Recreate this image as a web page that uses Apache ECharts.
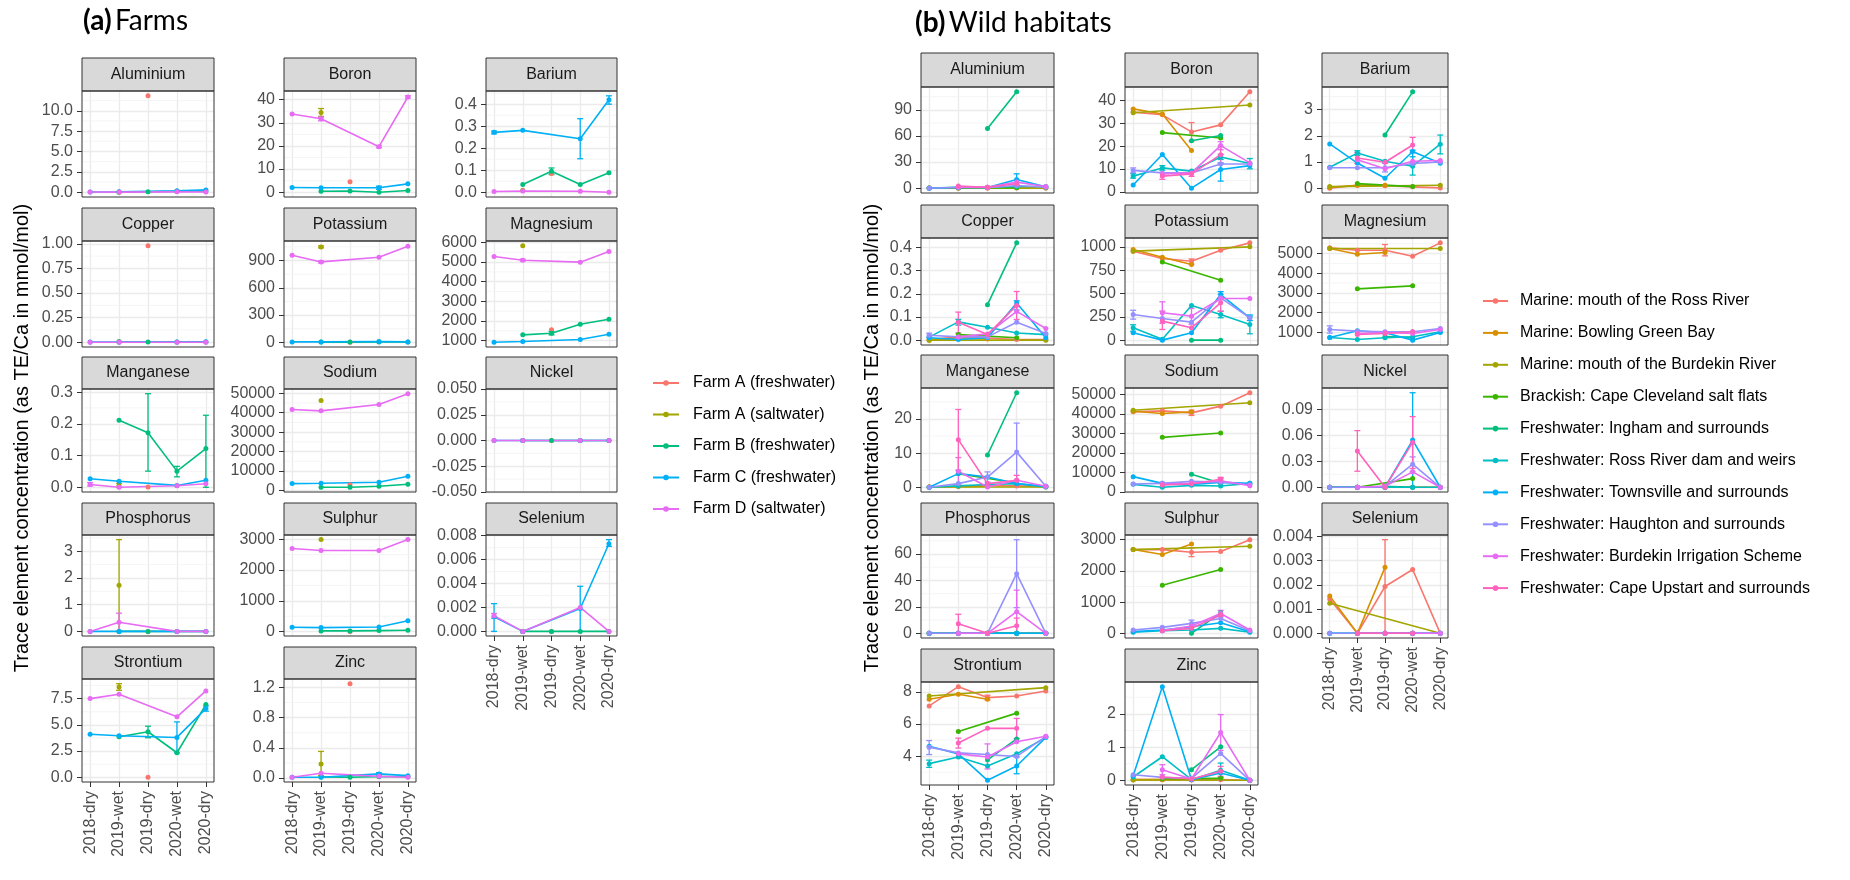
<!DOCTYPE html>
<html><head><meta charset="utf-8">
<script src="https://cdn.jsdelivr.net/npm/echarts@6/dist/echarts.min.js"></script>
<style>html,body{margin:0;padding:0;background:#fff}#c{width:1850px;height:880px}</style>
</head><body><div id="c"></div>
<script>
const categories = ['2018-dry','2019-wet','2019-dry','2020-wet','2020-dry'];
const elements = ['Aluminium','Boron','Barium','Copper','Potassium','Magnesium','Manganese','Sodium','Nickel','Phosphorus','Sulphur','Selenium','Strontium','Zinc'];
const farmNames = ['Farm A (freshwater)','Farm A (saltwater)','Farm B (freshwater)','Farm C (freshwater)','Farm D (saltwater)'];
const wildNames = ['Marine: mouth of the Ross River','Marine: Bowling Green Bay','Marine: mouth of the Burdekin River','Brackish: Cape Cleveland salt flats','Freshwater: Ingham and surrounds','Freshwater: Ross River dam and weirs','Freshwater: Townsville and surrounds','Freshwater: Haughton and surrounds','Freshwater: Burdekin Irrigation Scheme','Freshwater: Cape Upstart and surrounds'];
const farmColors = ['#F8766D','#A3A500','#00BF7D','#00B0F6','#E76BF3'];
const wildColors = ['#F8766D','#D89000','#A3A500','#39B600','#00BF7D','#00BFC4','#00B0F6','#9590FF','#E76BF3','#FF62BC'];

// ---------- (a) Farms : rows = farms, columns = categories ----------
const a_Aluminium = [[null,null,11.84,null,null],[null,0.0,null,null,null],[null,0.02,0.05,0.12,0.15],[0.03,0.05,null,0.18,0.28],[0.03,0.01,null,0.04,0.03]];
const a_Aluminium_err = [];
const a_Aluminium_ticks = ['0.0','2.5','5.0','7.5','10.0'];
const a_Boron = [[null,null,4.5,null,null],[null,34.5,null,null,null],[null,0.4,0.5,0.0,0.7],[2.0,1.9,null,1.9,3.6],[33.8,31.8,null,19.7,41.2]];
const a_Boron_err = [[1,1,32.8,36.2],[3,3,1.2,2.6],[4,1,30.9,32.5],[4,3,19.2,20.2],[4,4,40.7,41.7]];
const a_Boron_ticks = ['0','10','20','30','40'];
const a_Barium = [[null,null,0.085,null,null],[null,0.009,null,null,null],[null,0.035,0.095,0.035,0.088],[0.272,0.281,null,0.243,0.42],[0.003,0.005,null,0.004,0.0]];
const a_Barium_err = [[2,2,0.08,0.11],[3,0,0.265,0.278],[3,3,0.152,0.334],[3,4,0.40,0.438]];
const a_Barium_ticks = ['0.0','0.1','0.2','0.3','0.4'];
const a_Copper = [[null,null,0.98,null,null],[null,0.007,null,null,null],[null,0.002,0.002,0.002,0.003],[0.002,0.002,null,0.002,0.006],[0.001,0.001,null,0.001,0.001]];
const a_Copper_err = [];
const a_Copper_ticks = ['0.00','0.25','0.50','0.75','1.00'];
const a_Potassium = [[null,null,2,null,null],[null,1050,null,null,null],[null,3,3,4,4],[5,5,null,10,5],[958,885,null,937,1057]];
const a_Potassium_err = [[1,1,1040,1062],[4,1,875,895]];
const a_Potassium_ticks = ['0','300','600','900'];
const a_Magnesium = [[null,null,1544,null,null],[null,5830,null,null,null],[null,1289,1374,1833,2088],[915,949,null,1051,1323],[5284,5097,null,4996,5540]];
const a_Magnesium_err = [[2,2,1290,1460],[4,1,5050,5150]];
const a_Magnesium_ticks = ['1000','2000','3000','4000','5000','6000'];
const a_Manganese = [[null,null,0.001,null,null],[null,0.005,null,null,null],[null,0.211,0.172,0.051,0.122],[0.027,0.019,null,0.006,0.022],[0.009,0.0,null,0.005,0.011]];
const a_Manganese_err = [[1,1,0.0,0.012],[2,2,0.051,0.295],[2,3,0.033,0.066],[2,4,0.0,0.227],[4,0,0.004,0.015]];
const a_Manganese_ticks = ['0.0','0.1','0.2','0.3'];
const a_Sodium = [[null,null,2950,null,null],[null,46354,null,null,null],[null,1563,1563,2083,3125],[3472,3646,null,4167,7292],[41667,40972,null,44270,49826]];
const a_Sodium_err = [];
const a_Sodium_ticks = ['0','10000','20000','30000','40000','50000'];
const a_Nickel = [[null,null,0,null,null],[null,0,null,null,null],[null,0,0,0,0],[0,0,null,0,0],[0,0,null,0,0]];
const a_Nickel_err = [];
const a_Nickel_ticks = ['-0.050','-0.025','0.000','0.025','0.050'];
const a_Phosphorus = [[null,null,0,null,null],[null,1.72,null,null,null],[null,0,0,0,0],[0,0,null,0,0],[0,0.34,null,0,0]];
const a_Phosphorus_err = [[1,1,0.0,3.43],[4,1,0.0,0.68]];
const a_Phosphorus_ticks = ['0','1','2','3'];
const a_Sulphur = [[null,null,5,null,null],[null,2988,null,null,null],[null,21,21,32,43],[139,128,null,149,352],[2700,2636,null,2636,2988]];
const a_Sulphur_err = [];
const a_Sulphur_ticks = ['0','1000','2000','3000'];
const a_Selenium = [[null,null,0,null,null],[null,0,null,null,null],[null,0,0,0,0],[0.00123,0,null,0.00191,0.00732],[0.00131,0,null,0.002,0]];
const a_Selenium_err = [[3,0,0,0.00232],[3,3,0,0.00377],[3,4,0.0071,0.00767],[4,0,0.0011,0.0015]];
const a_Selenium_ticks = ['0.000','0.002','0.004','0.006','0.008'];
const a_Strontium = [[null,null,0.0,null,null],[null,8.61,null,null,null],[null,3.86,4.34,2.34,6.93],[4.11,3.96,null,3.8,6.55],[7.5,7.91,null,5.76,8.23]];
const a_Strontium_err = [[1,1,8.29,8.92],[2,2,3.77,4.87],[3,3,2.32,5.28],[3,4,6.3,6.8]];
const a_Strontium_ticks = ['0.0','2.5','5.0','7.5'];
const a_Zinc = [[null,null,1.249,null,null],[null,0.187,null,null,null],[null,0.013,0.01,0.018,0.018],[0.009,0.009,null,0.054,0.031],[0.009,0.062,null,0.022,0.009]];
const a_Zinc_err = [[1,1,0.031,0.352],[3,3,0.04,0.07]];
const a_Zinc_ticks = ['0.0','0.4','0.8','1.2'];

// ---------- (b) Wild habitats : rows = sites, columns = categories ----------
const b_Aluminium = [[0.1,0.3,0.2,0.3,0.1],[0.1,0.2,0.3,null,null],[0.1,null,null,null,0.1],[null,0.2,null,0.5,null],[null,null,68.5,110.7,null],[0.2,1.0,1.0,2.0,2.0],[0.0,0.8,0.8,10.0,1.5],[0.0,1.0,0.5,3.0,1.0],[null,1.0,1.0,7.0,2.0],[null,2.5,1.0,5.0,null]];
const b_Aluminium_err = [[6,3,3.8,16.5]];
const b_Aluminium_ticks = ['0','30','60','90'];
const b_Boron = [[35.0,33.8,26.3,29.4,43.9],[36.4,34.2,18.1,null,null],[34.7,null,null,null,38.1],[null,26.0,null,23.6,null],[null,null,22.4,24.7,null],[6.9,10.5,9.1,15.3,12.4],[3.0,16.4,1.6,9.8,11.5],[9.4,8.3,8.3,12.2,12.2],[null,7.9,8.3,20.3,12.7],[null,6.9,7.9,16.3,null]];
const b_Boron_err = [[0,2,22.3,30.4],[5,0,6.0,8.0],[5,1,9.5,11.5],[5,3,14.2,16.4],[5,4,10.1,14.6],[6,3,4.7,12.7],[7,0,8.3,10.5],[8,3,18.5,22.0],[9,1,5.5,8.4],[9,2,6.8,9.0],[9,3,12.5,20.0]];
const b_Boron_ticks = ['0','10','20','30','40'];
const b_Barium = [[0.0,0.11,0.09,0.05,0.01],[0.03,0.11,0.11,null,null],[0.06,null,null,null,0.11],[null,0.175,null,0.06,null],[null,null,2.03,3.68,null],[0.8,1.34,1.03,0.84,1.68],[1.69,0.96,0.38,1.4,0.95],[0.78,0.78,0.78,0.94,1.0],[null,1.09,0.74,1.03,1.06],[null,1.15,0.99,1.65,null]];
const b_Barium_err = [[5,1,1.25,1.43],[5,3,0.5,1.2],[5,4,1.31,2.03],[6,3,1.0,1.45],[7,2,0.62,0.95],[9,1,0.94,1.36],[9,3,1.36,1.94]];
const b_Barium_ticks = ['0','1','2','3'];
const b_Copper = [[0.003,0.014,0.009,0.003,0.003],[0.0,0.01,0.005,null,null],[0.0,null,null,null,0.0],[null,0.024,null,0.01,null],[null,null,0.153,0.42,null],[0.013,0.079,0.056,0.031,0.024],[0.01,0.003,0.01,0.16,0.01],[0.021,0.014,0.014,0.077,0.029],[null,0.014,0.027,0.124,0.05],[null,0.077,0.024,0.15,null]];
const b_Copper_err = [[5,1,0.065,0.09],[6,3,0.13,0.17],[7,0,0.012,0.03],[9,1,0.031,0.121],[9,3,0.089,0.21]];
const b_Copper_ticks = ['0.0','0.1','0.2','0.3','0.4'];
const b_Potassium = [[954,875,846,964,1043],[971,889,811,null,null],[954,null,null,null,1000],[null,839,null,643,null],[null,null,0,0,null],[132,10,371,275,168],[79,0,79,489,239],[275,232,193,454,239],[null,293,257,446,446],[null,204,132,400,null]];
const b_Potassium_err = [[0,2,815,870],[5,0,95,165],[5,3,240,310],[5,4,68,257],[6,3,455,520],[6,4,210,270],[7,0,225,320],[8,1,180,411],[8,2,170,340],[9,1,114,311],[9,3,310,490]];
const b_Potassium_ticks = ['0','250','500','750','1000'];
const b_Magnesium = [[5288,5169,5169,4864,5542],[5254,4966,5050,null,null],[5254,null,null,null,5254],[null,3203,null,3356,null],[null,null,780,720,null],[729,627,712,763,1017],[729,1068,966,593,983],[1136,1051,1017,1017,1186],[null,932,983,932,1136],[null,881,932,1017,null]];
const b_Magnesium_err = [[0,2,4881,5458],[7,0,950,1320]];
const b_Magnesium_ticks = ['1000','2000','3000','4000','5000'];
const b_Manganese = [[0.1,0.3,0.5,0.4,0.2],[0.1,0.2,0.3,null,null],[0.1,null,null,null,0.1],[null,4.0,null,1.27,null],[null,null,9.46,27.7,null],[0.0,0.4,0.8,1.07,0.1],[0.0,4.0,3.0,1.07,0.3],[0.0,1.07,3.0,10.3,0.3],[null,4.7,0.1,2.05,0.3],[null,13.95,1.07,2.05,null]];
const b_Manganese_err = [[7,2,1.5,4.5],[7,3,2.05,18.8],[8,1,0.7,8.7],[9,1,5.0,22.8],[9,3,0.6,3.5]];
const b_Manganese_ticks = ['0','10','20'];
const b_Sodium = [[41034,41552,40517,43966,50862],[41379,40172,41034,null,null],[41897,null,null,null,45690],[null,27931,null,30172,null],[null,null,8966,4310,null],[3793,2300,3276,2931,4310],[7759,4310,3800,4828,4310],[3966,4310,5345,5000,3621],[null,3793,4310,5690,3103],[null,3448,3966,6379,null]];
const b_Sodium_err = [[0,2,39200,41900],[8,3,4700,6700],[9,3,5300,7400]];
const b_Sodium_ticks = ['0','10000','20000','30000','40000','50000'];
const b_Nickel = [[0,0,0,0,0],[0,0,0,null,null],[0,null,null,null,0],[null,0,null,0.01,null],[null,null,0.001,0,null],[0,0,0,0,0],[0,0,0,0.0544,0],[0,0,0.001,0.0266,0],[null,0,0.001,0.0178,0],[null,0.0417,0,0.0517,null]];
const b_Nickel_err = [[6,3,0,0.109],[7,3,0.0178,0.035],[9,1,0.0185,0.0653],[9,3,0.0216,0.0815]];
const b_Nickel_ticks = ['0.00','0.03','0.06','0.09'];
const b_Phosphorus = [[0,0,0,0,0],[0,0,0,null,null],[0,null,null,null,0],[null,0,null,0,null],[null,null,0,0,null],[0,0,0,0,0],[0,0,0,0,0],[0,0,0,45.1,0],[null,0,0,16.4,0],[null,7.2,0,5.7,null]];
const b_Phosphorus_err = [[7,3,19.4,70.8],[8,3,0.2,32.6],[9,1,0,14.4],[9,3,0,11.5]];
const b_Phosphorus_ticks = ['0','20','40','60'];
const b_Sulphur = [[2674,2674,2589,2611,2989],[2674,2516,2853,null,null],[2674,null,null,null,2779],[null,1537,null,2042,null],[null,null,10,663,null],[42,95,116,168,42],[63,116,221,347,63],[116,200,326,484,95],[null,95,242,642,116],[null,95,168,589,null]];
const b_Sulphur_err = [[0,2,2450,2730],[7,2,220,430],[8,3,540,740]];
const b_Sulphur_ticks = ['0','1000','2000','3000'];
const b_Selenium = [[0.00141,0,0.00193,0.00263,0],[0.00154,0,0.00272,null,null],[0.00124,null,null,null,0],[null,0,null,0,null],[null,null,0,0,null],[0,0,0,0,0],[0,0,0,0,0],[0,0,0,0,0],[null,0,0,0,0],[null,0,0,0,null]];
const b_Selenium_err = [[0,2,0,0.00386]];
const b_Selenium_ticks = ['0.000','0.001','0.002','0.003','0.004'];
const b_Strontium = [[7.13,8.33,7.65,7.75,8.06],[7.55,7.86,7.55,null,null],[7.75,null,null,null,8.27],[null,5.53,null,6.68,null],[null,null,3.77,5.07,null],[3.53,3.94,3.38,4.14,5.17],[4.62,4.14,2.49,3.38,5.17],[4.56,4.2,4.1,3.98,5.22],[null,4.14,3.94,4.9,5.24],[null,4.82,5.73,5.73,null]];
const b_Strontium_err = [[0,2,7.5,7.8],[5,0,3.3,3.75],[6,3,2.9,3.94],[7,0,4.1,4.97],[8,2,3.2,4.76],[9,1,4.5,5.12],[9,3,5.1,6.35]];
const b_Strontium_ticks = ['4','6','8'];
const b_Zinc = [[0.02,0.02,0.01,0.02,0.0],[0.02,0.02,0.03,null,null],[0.01,null,null,null,0.0],[null,0.05,null,0.06,null],[null,null,0.32,1.01,null],[0.1,0.71,0.02,0.3,0.0],[0.14,2.82,0.02,0.22,0.0],[0.17,0.09,0.06,0.81,0.0],[null,0.32,0.04,1.44,0.0],[null,0.1,0.04,0.27,null]];
const b_Zinc_err = [[5,3,0.08,0.52],[8,1,0.17,0.47],[8,3,0.9,1.98],[9,3,0.12,0.42]];
const b_Zinc_ticks = ['0','1','2'];

// ---------- assemble ----------
const A = {
  vals:{Aluminium:a_Aluminium,Boron:a_Boron,Barium:a_Barium,Copper:a_Copper,Potassium:a_Potassium,Magnesium:a_Magnesium,Manganese:a_Manganese,Sodium:a_Sodium,Nickel:a_Nickel,Phosphorus:a_Phosphorus,Sulphur:a_Sulphur,Selenium:a_Selenium,Strontium:a_Strontium,Zinc:a_Zinc},
  errs:{Aluminium:a_Aluminium_err,Boron:a_Boron_err,Barium:a_Barium_err,Copper:a_Copper_err,Potassium:a_Potassium_err,Magnesium:a_Magnesium_err,Manganese:a_Manganese_err,Sodium:a_Sodium_err,Nickel:a_Nickel_err,Phosphorus:a_Phosphorus_err,Sulphur:a_Sulphur_err,Selenium:a_Selenium_err,Strontium:a_Strontium_err,Zinc:a_Zinc_err},
  ticks:{Aluminium:a_Aluminium_ticks,Boron:a_Boron_ticks,Barium:a_Barium_ticks,Copper:a_Copper_ticks,Potassium:a_Potassium_ticks,Magnesium:a_Magnesium_ticks,Manganese:a_Manganese_ticks,Sodium:a_Sodium_ticks,Nickel:a_Nickel_ticks,Phosphorus:a_Phosphorus_ticks,Sulphur:a_Sulphur_ticks,Selenium:a_Selenium_ticks,Strontium:a_Strontium_ticks,Zinc:a_Zinc_ticks},
  names:farmNames, colors:farmColors,
  colL:[82,284,486], colR:[214,416,617],
  stripTop:[58,208,357,503,647], plotTop:[91,241,389,535,679], plotBot:[197,347,492,636,782]
};
const B = {
  vals:{Aluminium:b_Aluminium,Boron:b_Boron,Barium:b_Barium,Copper:b_Copper,Potassium:b_Potassium,Magnesium:b_Magnesium,Manganese:b_Manganese,Sodium:b_Sodium,Nickel:b_Nickel,Phosphorus:b_Phosphorus,Sulphur:b_Sulphur,Selenium:b_Selenium,Strontium:b_Strontium,Zinc:b_Zinc},
  errs:{Aluminium:b_Aluminium_err,Boron:b_Boron_err,Barium:b_Barium_err,Copper:b_Copper_err,Potassium:b_Potassium_err,Magnesium:b_Magnesium_err,Manganese:b_Manganese_err,Sodium:b_Sodium_err,Nickel:b_Nickel_err,Phosphorus:b_Phosphorus_err,Sulphur:b_Sulphur_err,Selenium:b_Selenium_err,Strontium:b_Strontium_err,Zinc:b_Zinc_err},
  ticks:{Aluminium:b_Aluminium_ticks,Boron:b_Boron_ticks,Barium:b_Barium_ticks,Copper:b_Copper_ticks,Potassium:b_Potassium_ticks,Magnesium:b_Magnesium_ticks,Manganese:b_Manganese_ticks,Sodium:b_Sodium_ticks,Nickel:b_Nickel_ticks,Phosphorus:b_Phosphorus_ticks,Sulphur:b_Sulphur_ticks,Selenium:b_Selenium_ticks,Strontium:b_Strontium_ticks,Zinc:b_Zinc_ticks},
  names:wildNames, colors:wildColors,
  colL:[921,1125,1322], colR:[1054,1258,1448],
  stripTop:[53,205,355,503,649], plotTop:[87,238,388,535,682], plotBot:[193,345,492,638,785]
};

const FONT = '"Liberation Sans", Arial, sans-serif';
const XMIN = 0.72, XMAX = 5.28;
const option = {
  animation:false, backgroundColor:'#fff',
  textStyle:{fontFamily:FONT},
  grid:[], xAxis:[], yAxis:[], series:[], graphic:[], legend:[]
};

function addPanel(P){
  elements.forEach((el, i) => {
    const r = Math.floor(i/3), c = i%3;
    const vals = P.vals[el], errs = P.errs[el], ticks = P.ticks[el];
    const left = P.colL[c], right = P.colR[c], top = P.plotTop[r], bot = P.plotBot[r];
    const all = [];
    vals.forEach(row => row.forEach(v => { if (v !== null) all.push(v); }));
    errs.forEach(e => { all.push(e[2], e[3]); });
    const mn = Math.min(...all), mx = Math.max(...all);
    let lo, hi;
    if (mx - mn < 1e-12) { lo = mn - 0.05; hi = mx + 0.05; }
    else { const d = (mx - mn) * 0.05; lo = mn - d; hi = mx + d; }
    const tickVals = ticks.map(parseFloat);
    const step = tickVals[1] - tickVals[0];
    const minors = [tickVals[0] - step/2].concat(tickVals.map(t => t + step/2)).filter(v => v > lo && v < hi);
    const gi = option.grid.length;
    option.grid.push({left:left, top:top, width:right-left, height:bot-top, show:false});
    const showX = (r === 4) || (r === 3 && c === 2);
    option.xAxis.push({
      type:'value', gridIndex:gi, min:XMIN, max:XMAX,
      axisLine:{show:false, onZero:false},
      axisTick:{show:showX, length:5, lineStyle:{color:'#333333', width:1}, customValues:[1,2,3,4,5]},
      axisLabel:{show:showX, rotate:90, margin:9, color:'#4D4D4D', fontSize:16, fontFamily:FONT,
                 customValues:[1,2,3,4,5], formatter:v => categories[Math.round(v)-1]},
      splitLine:{show:true, lineStyle:{color:'#EBEBEB', width:1.3}}
    });
    option.yAxis.push({
      type:'value', gridIndex:gi, min:lo, max:hi,
      axisLine:{show:false, onZero:false},
      axisTick:{show:true, length:5, lineStyle:{color:'#333333', width:1}, customValues:tickVals},
      axisLabel:{show:true, margin:9, color:'#4D4D4D', fontSize:16, fontFamily:FONT, customValues:tickVals,
                 formatter:v => { let best = 0, bd = Infinity; tickVals.forEach((t,k) => { const d = Math.abs(t - v); if (d < bd) { bd = d; best = k; } }); return ticks[best]; }},
      splitLine:{show:true, lineStyle:{color:'#EBEBEB', width:1.3}}
    });
    // minor horizontal grid lines
    option.series.push({
      type:'custom', xAxisIndex:gi, yAxisIndex:gi, silent:true, z:1,
      data: minors.map(v => [3, v]), encode:{x:0, y:1},
      renderItem:(p, api) => {
        const v = api.value(1);
        const a = api.coord([XMIN, v]), b = api.coord([XMAX, v]);
        return {type:'line', shape:{x1:a[0], y1:a[1], x2:b[0], y2:b[1]}, style:{stroke:'#F2F2F2', lineWidth:0.8}};
      }
    });
    // error bars
    if (errs.length) {
      option.series.push({
        type:'custom', name:'errorbar', xAxisIndex:gi, yAxisIndex:gi, silent:true, z:2,
        data: errs.map(e => [e[1]+1, e[2], e[3], e[0]]), encode:{x:0, y:[1,2]},
        renderItem:(p, api) => {
          const x = api.value(0), l = api.value(1), h = api.value(2), g = api.value(3);
          const col = P.colors[g];
          const ph = api.coord([x, h]), pl = api.coord([x, l]);
          const w = 3;
          const st = {stroke:col, lineWidth:1.3};
          return {type:'group', children:[
            {type:'line', shape:{x1:ph[0], y1:ph[1], x2:pl[0], y2:pl[1]}, style:st},
            {type:'line', shape:{x1:ph[0]-w, y1:ph[1], x2:ph[0]+w, y2:ph[1]}, style:st},
            {type:'line', shape:{x1:pl[0]-w, y1:pl[1], x2:pl[0]+w, y2:pl[1]}, style:st}
          ]};
        }
      });
    }
    // lines + points
    vals.forEach((row, g) => {
      const d = [];
      row.forEach((v, k) => { if (v !== null) d.push([k+1, v]); });
      option.series.push({
        type:'line', name:P.names[g], xAxisIndex:gi, yAxisIndex:gi, data:d, z:3,
        symbol:'circle', symbolSize:5, showSymbol:true, showAllSymbol:true,
        lineStyle:{color:P.colors[g], width:1.6}, itemStyle:{color:P.colors[g]},
        emphasis:{disabled:true}
      });
    });
    // strip
    const st = P.stripTop[r];
    option.graphic.push({type:'rect', z:50, shape:{x:left, y:st, width:right-left, height:top-st},
      style:{fill:'#D9D9D9', stroke:'#333333', lineWidth:1}});
    option.graphic.push({type:'text', z:51, x:(left+right)/2, y:(st+top)/2,
      style:{text:el, font:'16px ' + FONT, fill:'#1A1A1A', align:'center', verticalAlign:'middle', textAlign:'center', textVerticalAlign:'middle'}});
    // panel border
    option.graphic.push({type:'rect', z:50, shape:{x:left, y:top, width:right-left, height:bot-top},
      style:{fill:null, stroke:'#333333', lineWidth:1}});
  });
}
addPanel(A);
addPanel(B);

// titles
option.graphic.push({type:'text', z:60, x:83, y:21,
  style:{text:'{b|(a)} {n|Farms}', rich:{b:{fontWeight:'bold', fontSize:28, fontFamily:'Lato'}, n:{fontSize:28, fontFamily:'Lato'}},
         fill:'#000', verticalAlign:'middle', textVerticalAlign:'middle'}});
option.graphic.push({type:'text', z:60, x:915, y:23,
  style:{text:'{b|(b)} {n|Wild habitats}', rich:{b:{fontWeight:'bold', fontSize:28, fontFamily:'Lato'}, n:{fontSize:28, fontFamily:'Lato'}},
         fill:'#000', verticalAlign:'middle', textVerticalAlign:'middle'}});
// y axis titles
['a','b'].forEach((p, i) => {
  option.graphic.push({type:'text', z:60, x: i === 0 ? 22 : 872, y:438, rotation:Math.PI/2,
    style:{text:'Trace element concentration (as TE/Ca in mmol/mol)', font:'20px ' + FONT, fill:'#000',
           align:'center', verticalAlign:'middle', textAlign:'center', textVerticalAlign:'middle'}});
});

option.legend.push({
  data:farmNames, orient:'vertical', left:652, top:374, padding:0,
  itemWidth:26, itemHeight:7, itemGap:13.5, selectedMode:false,
  textStyle:{fontSize:16, color:'#000', fontFamily:FONT, lineHeight:18, padding:[0,0,0,9]}
});
option.legend.push({
  data:wildNames, orient:'vertical', left:1482, top:292, padding:0,
  itemWidth:25, itemHeight:7, itemGap:13.9, selectedMode:false,
  textStyle:{fontSize:16, color:'#000', fontFamily:FONT, lineHeight:18, padding:[0,0,0,7]}
});

const chart = echarts.init(document.getElementById('c'), null, {renderer:'canvas'});
chart.setOption(option);
</script>
</body></html>
